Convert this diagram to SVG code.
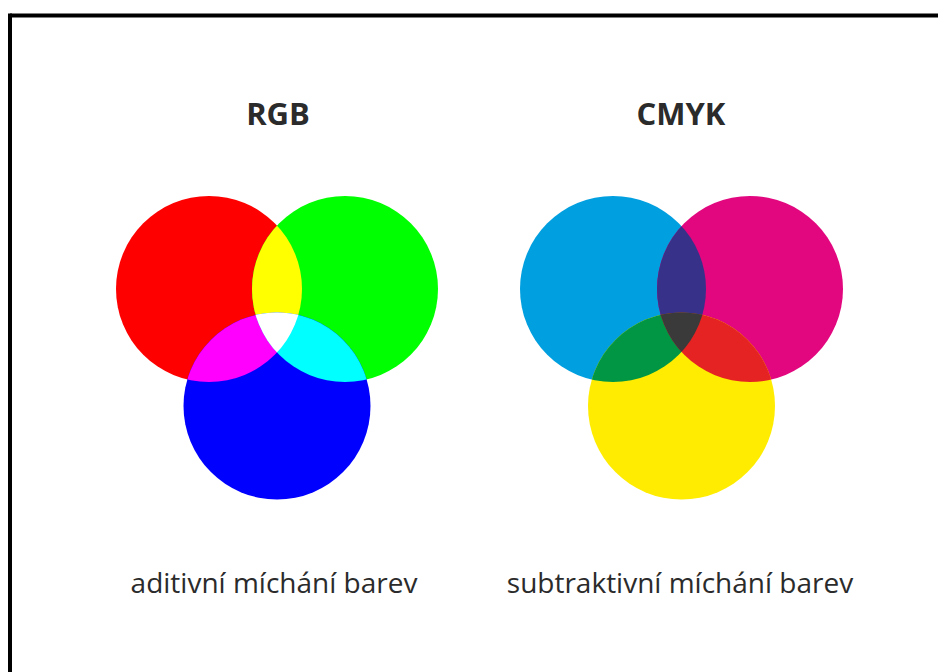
<svg xmlns="http://www.w3.org/2000/svg" width="938" height="672" viewBox="0 0 938 672">
  <style>
    .title { font-family: "Open Sans", "Liberation Sans", sans-serif; font-weight: 700; font-size: 31px; fill: #2b2b2b; text-anchor: middle; }
    .caption { font-family: "Open Sans", "Liberation Sans", sans-serif; font-size: 28px; fill: #2b2b2b; text-anchor: middle; }
    .frame { stroke: #000; stroke-width: 4; fill: none; }
  </style>
  <defs>
    <clipPath id="clipR"><circle cx="209" cy="289" r="93"/></clipPath>
    <clipPath id="clipG"><circle cx="345" cy="289" r="93"/></clipPath>
    <clipPath id="clipB"><circle cx="277" cy="406" r="93.5"/></clipPath>
    <clipPath id="clipC"><circle cx="613" cy="289" r="93"/></clipPath>
    <clipPath id="clipM"><circle cx="750" cy="289" r="93"/></clipPath>
    <clipPath id="clipY"><circle cx="681.5" cy="406" r="93.5"/></clipPath>
  </defs>

  <rect width="938" height="672" fill="#fff"/>
  <g id="frame">
    <line class="frame" x1="10" y1="15.5" x2="938" y2="15.5"/>
    <line class="frame" x1="10" y1="13.5" x2="10" y2="672"/>
  </g>

  <g id="rgb">
    <text class="title" x="278" y="125">RGB</text>
    <g id="red"><circle cx="209" cy="289" r="93" fill="#ff0000"/></g>
    <g id="green"><circle cx="345" cy="289" r="93" fill="#00ff00"/></g>
    <g id="blue"><circle cx="277" cy="406" r="93.5" fill="#0000ff"/></g>
    <g id="yellow-overlap"><circle cx="345" cy="289" r="93" fill="#ffff00" clip-path="url(#clipR)"/></g>
    <g id="magenta-overlap"><circle cx="277" cy="406" r="93.5" fill="#ff00ff" clip-path="url(#clipR)"/></g>
    <g id="cyan-overlap"><circle cx="277" cy="406" r="93.5" fill="#00ffff" clip-path="url(#clipG)"/></g>
    <g id="white-overlap" clip-path="url(#clipR)"><circle cx="277" cy="406" r="93.5" fill="#ffffff" clip-path="url(#clipG)"/></g>
    <text class="caption" x="274" y="593">aditivní míchání barev</text>
  </g>

  <g id="cmyk">
    <text class="title" x="681" y="125">CMYK</text>
    <g id="cyan"><circle cx="613" cy="289" r="93" fill="#009fe0"/></g>
    <g id="magenta"><circle cx="750" cy="289" r="93" fill="#e2067f"/></g>
    <g id="yellowc"><circle cx="681.5" cy="406" r="93.5" fill="#ffec00"/></g>
    <g id="blue-overlap"><circle cx="750" cy="289" r="93" fill="#37318a" clip-path="url(#clipC)"/></g>
    <g id="green-overlap"><circle cx="681.5" cy="406" r="93.5" fill="#009643" clip-path="url(#clipC)"/></g>
    <g id="red-overlap"><circle cx="681.5" cy="406" r="93.5" fill="#e42322" clip-path="url(#clipM)"/></g>
    <g id="black-overlap" clip-path="url(#clipC)"><circle cx="681.5" cy="406" r="93.5" fill="#3a3a3a" clip-path="url(#clipM)"/></g>
    <text class="caption" x="680" y="593">subtraktivní míchání barev</text>
  </g>
</svg>
